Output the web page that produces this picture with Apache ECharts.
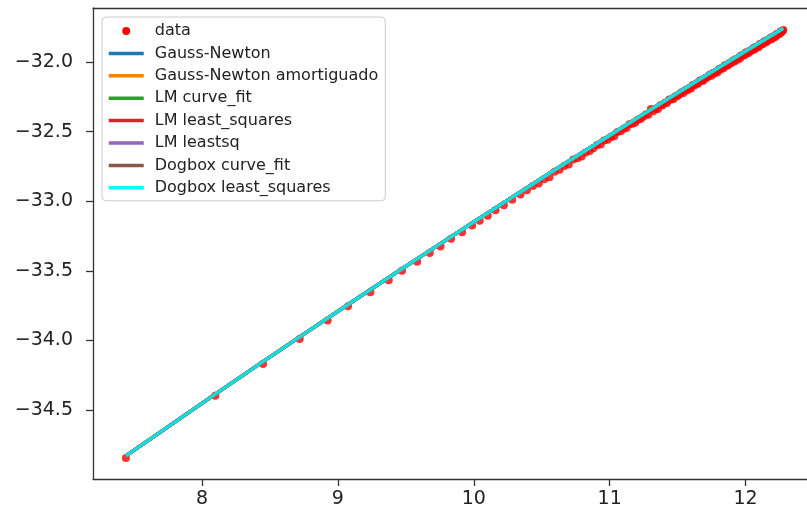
<!DOCTYPE html>
<html><head><meta charset="utf-8">
<script src="https://cdn.jsdelivr.net/npm/echarts@6/dist/echarts.min.js"></script>
<style>html,body{margin:0;padding:0;background:#fff}#c{width:807px;height:515px}</style>
</head><body><div id="c"></div>
<script>
const dataX = [7.440, 8.098, 8.449, 8.719, 8.925, 9.075, 9.239, 9.374, 9.472, 9.583, 9.676, 9.755, 9.833, 9.914, 9.988, 10.044, 10.103, 10.160, 10.221, 10.283, 10.344, 10.391,
 10.435, 10.478, 10.518, 10.557, 10.595, 10.631, 10.666, 10.699, 10.732, 10.763, 10.794, 10.824, 10.853, 10.881, 10.908, 10.934, 10.960, 10.986,
 11.010, 11.034, 11.058, 11.081, 11.103, 11.125, 11.146, 11.167, 11.188, 11.208, 11.228, 11.247, 11.266, 11.285, 11.303, 11.321, 11.339, 11.356, 11.373, 11.390,
 11.406, 11.422, 11.438, 11.454, 11.470, 11.485, 11.500, 11.515, 11.529, 11.543, 11.558, 11.572, 11.585, 11.599, 11.612, 11.626, 11.639, 11.651, 11.664, 11.677,
 11.689, 11.701, 11.713, 11.725, 11.737, 11.749, 11.760, 11.772, 11.783, 11.794, 11.805, 11.816, 11.827, 11.838, 11.848, 11.859, 11.869, 11.879, 11.889, 11.899,
 11.909, 11.919, 11.929, 11.939, 11.948, 11.958, 11.967, 11.976, 11.986, 11.995, 12.004, 12.013, 12.022, 12.030, 12.039, 12.048, 12.056, 12.065, 12.073, 12.082,
 12.090, 12.098, 12.106, 12.114, 12.122, 12.130, 12.138, 12.146, 12.154, 12.162, 12.169, 12.177, 12.184, 12.192, 12.199, 12.207, 12.214, 12.221, 12.228, 12.236,
 12.243, 12.250, 12.257, 12.264, 12.271, 12.278];
const dataY = [-34.845, -34.398, -34.170, -33.990, -33.858, -33.755, -33.655, -33.568, -33.500, -33.435, -33.372, -33.325, -33.270, -33.224, -33.175, -33.140, -33.104, -33.066, -33.030, -32.990, -32.952, -32.922,
 -32.890, -32.873, -32.842, -32.828, -32.788, -32.775, -32.748, -32.736, -32.701, -32.692, -32.679, -32.650, -32.639, -32.619, -32.596, -32.593, -32.564, -32.559,
 -32.538, -32.533, -32.503, -32.498, -32.479, -32.475, -32.447, -32.444, -32.437, -32.414, -32.409, -32.394, -32.377, -32.379, -32.337, -32.354, -32.338, -32.337, -32.311, -32.310,
 -32.295, -32.294, -32.269, -32.270, -32.266, -32.246, -32.244, -32.232, -32.217, -32.223, -32.201, -32.203, -32.188, -32.190, -32.166, -32.167, -32.154, -32.156, -32.133, -32.135,
 -32.134, -32.116, -32.115, -32.105, -32.092, -32.099, -32.079, -32.082, -32.070, -32.073, -32.050, -32.053, -32.041, -32.044, -32.023, -32.026, -32.026, -32.009, -32.010, -32.001,
 -31.989, -31.997, -31.979, -31.983, -31.971, -31.975, -31.954, -31.957, -31.947, -31.950, -31.930, -31.935, -31.935, -31.919, -31.921, -31.913, -31.902, -31.911, -31.893, -31.898,
 -31.887, -31.892, -31.871, -31.875, -31.866, -31.870, -31.850, -31.856, -31.857, -31.842, -31.844, -31.836, -31.826, -31.836, -31.818, -31.824, -31.814, -31.819, -31.799, -31.804,
 -31.795, -31.799, -31.780, -31.786, -31.777, -31.770];
const fitX = [7.440, 8.098, 8.449, 8.719, 9.075, 9.374, 9.676, 9.988, 10.283, 10.595, 10.908, 11.228, 11.558, 11.869, 12.090, 12.278];
const fitY = [-34.830, -34.386, -34.153, -33.975, -33.742, -33.548, -33.355, -33.157, -32.971, -32.776, -32.583, -32.387, -32.187, -32.000, -31.869, -31.758];
const fitNames = ['Gauss-Newton', 'Gauss-Newton amortiguado', 'LM curve_fit', 'LM least_squares', 'LM leastsq', 'Dogbox curve_fit', 'Dogbox least_squares'];
const fitColors = ['#1f77b4', '#ff7f0e', '#2ca02c', '#d62728', '#9467bd', '#8c564b', '#1adada'];
const legendColors = ['#1f77b4', '#ff7f0e', '#2ca02c', '#d62728', '#9467bd', '#8c564b', '#00ffff'];
const xTicks = [8, 9, 10, 11, 12];
const yTicks = [-34.5, -34.0, -33.5, -33.0, -32.5, -32.0];

const FONT = 'DejaVu Sans';
const AX = '#333';
const chart = echarts.init(document.getElementById('c'), null, {renderer: 'canvas'});
const series = [{
  name: 'data', type: 'scatter',
  data: dataX.map((x, i) => [x, dataY[i]]),
  symbol: 'circle', symbolSize: 8,
  itemStyle: {color: '#ff0000'}
}];
fitNames.forEach((n, k) => series.push({
  name: n, type: 'line',
  data: fitX.map((x, i) => [x, fitY[i]]),
  symbol: 'none', showSymbol: false,
  lineStyle: {color: fitColors[k], width: 3.5},
  itemStyle: {color: fitColors[k]}
}));
const legendData = [{name: 'data', itemStyle: {opacity: 1}}].concat(
  fitNames.map((n, k) => ({name: n, lineStyle: {color: legendColors[k], width: 3.5}})));

chart.setOption({
  animation: false,
  backgroundColor: '#ffffff',
  grid: {left: 93, right: 0, top: 8, bottom: 36},
  xAxis: [{
    type: 'value', min: 7.198, max: 12.452,
    axisLine: {show: true, onZero: false, lineStyle: {color: AX, width: 1.3}},
    splitLine: {show: false},
    axisTick: {show: true, customValues: xTicks, length: 7, lineStyle: {color: AX, width: 1.3}},
    axisLabel: {customValues: xTicks, margin: 11, fontSize: 19, color: '#222', fontFamily: FONT}
  }, {
    type: 'value', position: 'top', min: 7.198, max: 12.452,
    axisLine: {show: true, onZero: false, lineStyle: {color: AX, width: 1.3}},
    splitLine: {show: false}, axisTick: {show: false}, axisLabel: {show: false}
  }],
  yAxis: {
    type: 'value', min: -34.996, max: -31.612,
    axisLine: {show: true, onZero: false, lineStyle: {color: AX, width: 1.3}},
    splitLine: {show: false},
    axisTick: {show: true, customValues: yTicks, length: 7, lineStyle: {color: AX, width: 1.3}},
    axisLabel: {customValues: yTicks, margin: 20, fontSize: 19, color: '#222', fontFamily: FONT,
      formatter: v => (v < 0 ? '\u2212' : '') + Math.abs(v).toFixed(1)}
  },
  legend: {
    orient: 'vertical', left: 102, top: 17,
    padding: [6, 7, 5, 5],
    itemWidth: 35, itemHeight: 8, itemGap: 6.4,
    backgroundColor: 'rgba(255,255,255,0.8)', borderColor: '#cccccc', borderWidth: 1, borderRadius: 4,
    itemStyle: {opacity: 0, borderWidth: 0},
    selectedMode: false,
    textStyle: {fontFamily: FONT, fontSize: 16, color: '#222', lineHeight: 16, padding: [0, 0, 0, 6]},
    data: legendData
  },
  series: series
});
</script>
</body></html>
